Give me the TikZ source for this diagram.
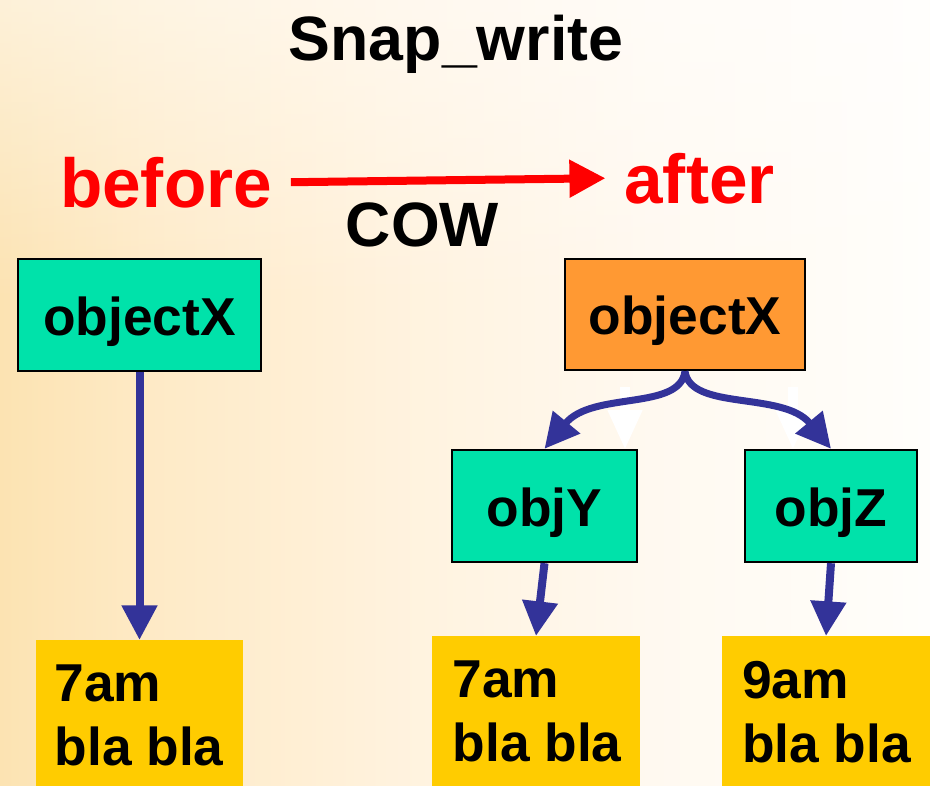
\documentclass[tikz,border=0pt]{standalone}
\usepackage{fontspec}
\setmainfont{Liberation Sans}
\usetikzlibrary{arrows.meta,fadings}

\definecolor{bgA}{HTML}{FCE3B2}
\definecolor{bgB}{HTML}{FEEAC6}
\definecolor{bgC}{HTML}{FFF2DD}
\definecolor{bgD}{HTML}{FFF9F0}
\definecolor{bgE}{HTML}{FFFEFB}
\definecolor{objteal}{HTML}{00E2AA}
\definecolor{objorange}{HTML}{FF9933}
\definecolor{datayellow}{HTML}{FFCC00}
\definecolor{linkblue}{HTML}{333399}

% horizontal fade of the slide background (path maps to 25bp..75bp)
\pgfdeclarehorizontalshading{slidebg}{100bp}{%
  color(0bp)=(bgA); color(25bp)=(bgA); color(33bp)=(bgB);
  color(46bp)=(bgC); color(60bp)=(bgD); color(75bp)=(bgE); color(100bp)=(bgE)}
% lighter band along the top edge
\tikzfading[name=topglow, top color=transparent!0, bottom color=transparent!100]

\tikzset{
  objbox/.style={draw=black, line width=1.8pt, minimum height=84pt,
    font=\fontsize{40}{48}\selectfont\bfseries,
    text height=30pt, text depth=0pt, inner sep=0pt},
  databox/.style={fill=datayellow, anchor=north, minimum height=113.25pt,
    inner sep=0pt},
  datatext/.style={anchor=north west, align=left, inner sep=0pt,
    font=\fontsize{40}{48}\selectfont\bfseries},
  link/.style={draw=linkblue, line width=6pt,
    -{Triangle[length=26pt,width=25.5pt]}},
  curvelink/.style={link, line width=5.25pt},
  ghost/.style={draw=white, line width=7.5pt,
    -{Triangle[length=30pt,width=24pt]}},
  stage/.style={text=red, inner xsep=14pt, inner ysep=0pt, anchor=base,
    font=\fontsize{52}{60}\selectfont\bfseries},
}

\begin{document}
\begin{tikzpicture}[x=0.75pt,y=-0.75pt]
  \useasboundingbox (0,0) rectangle (930,785);
  \fill[shading=slidebg] (0,0) rectangle (930,785);
  \fill[white, opacity=0.5, path fading=topglow] (0,0) rectangle (930,300);

  % title and the copy-on-write transition
  \node[anchor=base, font=\fontsize{47}{56}\selectfont\bfseries]
    (title) at (456,60) {Snap\_write};
  \node[stage] (before) at (166,207) {before};
  \node[stage] (after) at (699.5,203) {after};
  \draw[draw=red, line width=6pt, -{Triangle[length=27pt,width=27pt]}]
    (before.east) -- (after.west);
  \node[anchor=base, font=\fontsize{47}{56}\selectfont\bfseries]
    (cow) at (422.5,246) {COW};

  % before: one object
  \node[objbox, fill=objteal, minimum width=182.25pt] (ox1) at (139.5,315) {objectX};
  \node[databox, minimum width=155.25pt] (d1) at (139.5,640) {};
  \node[datatext] (t1) at ([xshift=14pt,yshift=-18.75pt]d1.north west) {7am\\bla bla};
  \draw[link] (ox1.south) -- (d1.north);

  % after: object split into two
  \node[objbox, fill=objorange, minimum width=180pt, minimum height=83.25pt]
    (ox2) at (685,314.5) {objectX};
  \node[objbox, fill=objteal, minimum width=138.75pt] (oy) at (544.5,506) {objY};
  \node[objbox, fill=objteal, minimum width=129pt] (oz) at (831,506) {objZ};
  \node[databox, minimum width=156pt] (d2) at (536,636) {};
  \node[datatext] (t2) at ([xshift=15.5pt,yshift=-18.75pt]d2.north west) {7am\\bla bla};
  \node[databox, minimum width=156pt] (d3) at (826,636) {};
  \node[datatext] (t3) at ([xshift=15pt,yshift=-18.75pt]d3.north west) {9am\\bla bla};

  % faint white marks under the split arrows
  \coordinate (g1s) at (625,387);
  \coordinate (g1e) at (625,450);
  \coordinate (g2s) at (793,387);
  \coordinate (g2e) at (793,450);
  \draw[ghost] (g1s) -- (g1e);
  \draw[ghost] (g2s) -- (g2e);

  \draw[curvelink] (ox2.south) .. controls +(-5,40) and +(48,-58) .. (oy.north);
  \draw[curvelink] (ox2.south) .. controls +(5,40) and +(-48,-58) .. (oz.north);
  \draw[link] (oy.south) -- (d2.north);
  \draw[link] (oz.south) -- (d3.north);
\end{tikzpicture}
\end{document}
